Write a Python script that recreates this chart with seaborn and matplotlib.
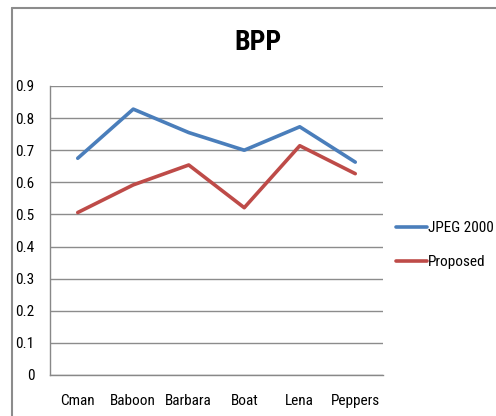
import matplotlib
matplotlib.use("Agg")
import matplotlib.pyplot as plt
from matplotlib import font_manager
import seaborn as sns
import pandas as pd
from matplotlib.lines import Line2D

categories = ["Cman", "Baboon", "Barbara", "Boat", "Lena", "Peppers"]
jpeg2000 = [0.675, 0.828, 0.755, 0.700, 0.773, 0.663]
proposed = [0.506, 0.592, 0.654, 0.521, 0.714, 0.627]
series_names = ["JPEG 2000", "Proposed"]
colors = ["#4A7EBB", "#BE4B48"]
yticks = [0, 0.1, 0.2, 0.3, 0.4, 0.5, 0.6, 0.7, 0.8, 0.9]
ytick_labels = ["0", "0.1", "0.2", "0.3", "0.4", "0.5", "0.6", "0.7", "0.8", "0.9"]

df = pd.DataFrame({
    "Image": categories * 2,
    "BPP": jpeg2000 + proposed,
    "Method": [series_names[0]] * len(categories) + [series_names[1]] * len(categories),
})
df["pos"] = df["Image"].map({c: i for i, c in enumerate(categories)})

sns.set_style("white")

# pick a narrow font if one is installed
available = {f.name for f in font_manager.fontManager.ttflist}
narrow_prefs = ["Liberation Sans Narrow", "Roboto Condensed", "Open Sans Condensed",
                "DejaVu Sans Condensed", "Noto Sans Condensed", "Arial Narrow"]
narrow = [n for n in narrow_prefs if n in available]
if narrow:
    family = [narrow[0], "DejaVu Sans"]
    fs_tick, fs_title, fs_leg = 11, 20, 11
else:
    family = ["Lato", "Roboto", "DejaVu Sans"]
    fs_tick, fs_title, fs_leg = 10, 19, 10
plt.rcParams["font.family"] = family
plt.rcParams["font.stretch"] = "condensed"
plt.rcParams["text.color"] = "black"
plt.rcParams["xtick.color"] = "black"
plt.rcParams["ytick.color"] = "black"

fig = plt.figure(figsize=(4.96, 4.16), dpi=100)
ax = fig.add_axes([50/496, 1-375/416, (383-50)/496, (375-86)/416])

sns.lineplot(data=df, x="pos", y="BPP", hue="Method", palette=colors,
             linewidth=2.6, ax=ax, legend=False, sort=False)

ax.set_xlim(-0.5, len(categories) - 0.5)
ax.set_ylim(0, 0.9)
ax.set_yticks(yticks)
ax.set_yticklabels(ytick_labels, fontsize=fs_tick)
ax.set_xticks(range(len(categories)))
ax.set_xticklabels(categories, fontsize=fs_tick)
ax.set_xticks([i - 0.5 for i in range(len(categories) + 1)], minor=True)
ax.tick_params(axis="x", which="major", length=0, pad=14, colors="black")
ax.tick_params(axis="x", which="minor", length=5, color="#888888", direction="out")
ax.tick_params(axis="y", which="major", length=5, color="#888888", labelcolor="black",
               direction="out", pad=6)
ax.set_xlabel("")
ax.set_ylabel("")
ax.yaxis.grid(True, color="#8c8c8c", linewidth=1)
ax.set_axisbelow(True)
for s in ["top", "right"]:
    ax.spines[s].set_visible(False)
for s in ["left", "bottom"]:
    ax.spines[s].set_color("#888888")
    ax.spines[s].set_linewidth(1)

fig.text(258/496, 1-43/416, "BPP", ha="center", va="center", fontsize=fs_title,
         fontweight="bold", color="black")

handles = [Line2D([0], [0], color=c, linewidth=2.6) for c in colors]
fig.legend(handles, series_names, loc="center left", bbox_to_anchor=(396/496, 1-245/416),
           frameon=False, fontsize=fs_leg, handlelength=2.0, handletextpad=0.1,
           labelspacing=1.3, borderaxespad=0, borderpad=0)

# chart area border
fig.add_artist(Line2D([12/496, 12/496], [0, 1-8/416], transform=fig.transFigure,
                      color="#8c8c8c", linewidth=1.5))
fig.add_artist(Line2D([12/496, 1], [1-8/416, 1-8/416], transform=fig.transFigure,
                      color="#8c8c8c", linewidth=1.5))

fig.savefig("out.png", dpi=100)
